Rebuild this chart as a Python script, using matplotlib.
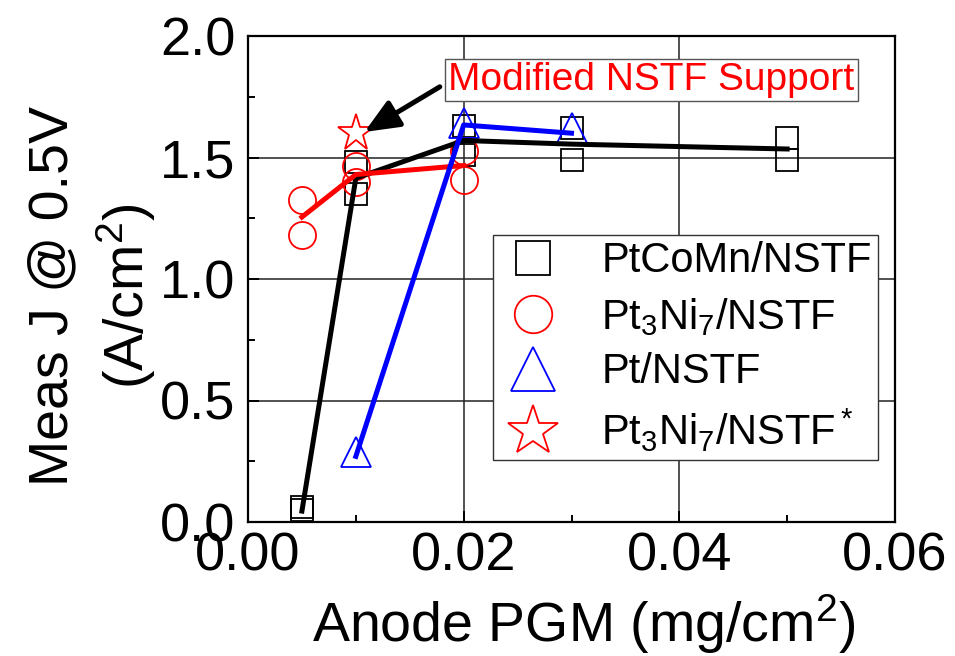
import matplotlib
matplotlib.use("Agg")
import matplotlib.pyplot as plt
from matplotlib.lines import Line2D
from matplotlib.ticker import MultipleLocator

plt.rcParams['font.family'] = ['Liberation Sans', 'DejaVu Sans']
plt.rcParams['mathtext.fontset'] = 'custom'
plt.rcParams['mathtext.rm'] = 'Liberation Sans'
plt.rcParams['mathtext.it'] = 'Liberation Sans'
plt.rcParams['mathtext.default'] = 'regular'

# Individual measurements (anode PGM loading in mg/cm2, current density in A/cm2)
ptcomn_x = [0.005, 0.005, 0.01, 0.01, 0.02, 0.02, 0.03, 0.03, 0.05, 0.05]
ptcomn_y = [0.06, 0.05, 1.48, 1.35, 1.63, 1.51, 1.62, 1.49, 1.58, 1.49]
pt3ni7_x = [0.005, 0.005, 0.01, 0.01, 0.02, 0.02]
pt3ni7_y = [1.325, 1.18, 1.465, 1.40, 1.527, 1.407]
pt_x = [0.01, 0.02, 0.03]
pt_y = [0.29, 1.644, 1.62]
pt3ni7_mod_x = [0.01]
pt3ni7_mod_y = [1.60]

# Averages connected by lines
ptcomn_avg_x = [0.005, 0.01, 0.02, 0.03, 0.05]
ptcomn_avg_y = [0.045, 1.415, 1.57, 1.555, 1.535]
pt3ni7_avg_x = [0.005, 0.01, 0.02]
pt3ni7_avg_y = [1.255, 1.43, 1.467]
pt_avg_x = [0.01, 0.02, 0.03]
pt_avg_y = [0.27, 1.634, 1.60]

legend_labels = ['PtCoMn/NSTF', 'Pt$_3$Ni$_7$/NSTF', 'Pt/NSTF', 'Pt$_3$Ni$_7$/NSTF$^*$']

fig = plt.figure(figsize=(9.55, 6.56), dpi=100)
ax = fig.add_axes([248 / 955, 1 - 522 / 656, (895 - 248) / 955, (522 - 36) / 656])

mew = 1.3
ax.plot(ptcomn_x, ptcomn_y, ls='none', marker='s', ms=16.5, mfc='none', mec='black', mew=mew, zorder=3)
ax.plot(pt3ni7_x, pt3ni7_y, ls='none', marker='o', ms=19.5, mfc='none', mec='red', mew=mew, zorder=3)
ax.plot(pt_x, pt_y, ls='none', marker='^', ms=22, mfc='none', mec='blue', mew=mew, zorder=3)
ax.plot(pt3ni7_mod_x, pt3ni7_mod_y, ls='none', marker='*', ms=28, mfc='none', mec='red', mew=mew, zorder=3)

ax.plot(ptcomn_avg_x, ptcomn_avg_y, color='black', lw=3.6, zorder=4)
ax.plot(pt3ni7_avg_x, pt3ni7_avg_y, color='red', lw=3.6, zorder=5)
ax.plot(pt_avg_x, pt_avg_y, color='blue', lw=3.6, zorder=6)

ax.set_xlim(0, 0.06)
ax.set_ylim(0, 2.0)
ax.xaxis.set_major_locator(MultipleLocator(0.02))
ax.xaxis.set_minor_locator(MultipleLocator(0.01))
ax.yaxis.set_major_locator(MultipleLocator(0.5))
ax.yaxis.set_minor_locator(MultipleLocator(0.25))
ax.xaxis.set_major_formatter(plt.FormatStrFormatter('%.2f'))
ax.yaxis.set_major_formatter(plt.FormatStrFormatter('%.1f'))
ax.grid(True, which='major', color='#222222', lw=1.1, zorder=0)
ax.set_axisbelow(True)
ax.tick_params(which='both', direction='in', top=False, right=False, width=1.4)
ax.tick_params(which='major', length=8, labelsize=39, pad=7)
ax.tick_params(which='minor', length=5)
ax.tick_params(axis='y', pad=9)
for s in ax.spines.values():
    s.set_linewidth(1.6)

ax.set_xlabel('Anode PGM (mg/cm$^2$)', fontsize=40)
ax.xaxis.set_label_coords((584 - 248) / 647, -(592 - 522) / 486)
ax.set_ylabel('Meas J @ 0.5V\n(A/cm$^2$)', fontsize=40, linespacing=1.3)
ax.yaxis.set_label_coords(-(248 - 158) / 647, (522 - 296) / 486)

handles = [
    Line2D([], [], ls='none', marker='s', ms=24, mfc='none', mec='black', mew=mew),
    Line2D([], [], ls='none', marker='o', ms=27, mfc='none', mec='red', mew=mew),
    Line2D([], [], ls='none', marker='^', ms=32, mfc='none', mec='blue', mew=mew),
    Line2D([], [], ls='none', marker='*', ms=38, mfc='none', mec='red', mew=mew),
]
leg = ax.legend(handles, legend_labels, loc='upper left', bbox_to_anchor=((493 - 248) / 647, (522 - 235) / 486),
                fontsize=30, frameon=True, fancybox=False, framealpha=1, edgecolor='#333333',
                borderpad=0.15, labelspacing=0.35, handletextpad=0.85, handlelength=1.6, borderaxespad=0)
leg.get_frame().set_linewidth(1.0)
leg.set_zorder(10)

ax.annotate('Modified NSTF Support', xy=(0.0108, 1.605), xytext=(0.0374, 1.819),
            fontsize=28, color='red', ha='center', va='center',
            bbox=dict(boxstyle='square,pad=0.08', fc='white', ec='#555555', lw=1.0),
            arrowprops=dict(arrowstyle='-|>,head_length=0.75,head_width=0.32', color='black', lw=3.6,
                            shrinkA=4, shrinkB=0, relpos=(0, 0.45)),
            zorder=11)

fig.savefig('out.png', dpi=100)
